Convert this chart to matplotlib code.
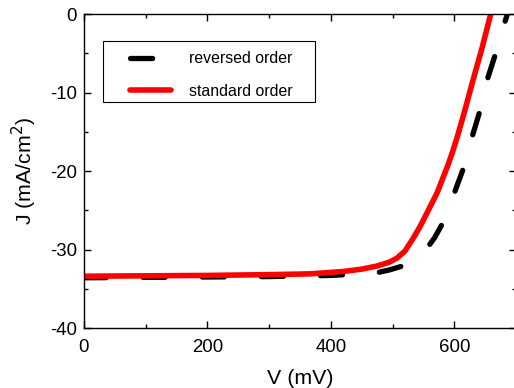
import matplotlib

matplotlib.use("Agg")

import matplotlib.pyplot as plt
from matplotlib.patches import Rectangle
from matplotlib.ticker import MultipleLocator

plt.rcParams["font.family"] = ["Liberation Sans", "DejaVu Sans"]
plt.rcParams["axes.unicode_minus"] = False

# J-V curves (V in mV, J in mA/cm^2)
v_reversed = [0, 100, 200, 300, 400, 472, 495, 516, 535, 556, 568, 580, 590,
              600, 615, 629, 642, 654, 667, 678, 686]
j_reversed = [-33.6, -33.55, -33.5, -33.45, -33.3, -33.0, -32.6, -32.1, -31.2,
              -29.8, -28.5, -26.8, -24.9, -22.8, -19.6, -15.6, -12.2, -8.2,
              -5.0, -2.0, 0.0]

v_standard = [0, 100, 200, 300, 367, 420, 450, 475, 495, 507, 520, 534, 545,
              556, 572, 589, 597, 605, 617, 629, 645, 659]
j_standard = [-33.4, -33.35, -33.3, -33.2, -33.1, -32.8, -32.5, -32.1, -31.6,
              -31.1, -30.2, -28.5, -27.0, -25.3, -22.8, -19.4, -17.6, -15.6,
              -12.3, -8.8, -4.3, 0.0]

fig = plt.figure(figsize=(5.14, 3.88), dpi=100)
ax = fig.add_axes([0.1634, 0.1546, 0.8406, 0.8093])

ax.plot(v_reversed, j_reversed, color="black", linewidth=3.8,
        linestyle=(0, (4.2, 7.0)), dash_capstyle="round",
        label="reversed order")
ax.plot(v_standard, j_standard, color="#ff0000", linewidth=4.0,
        solid_capstyle="round", solid_joinstyle="round",
        label="standard order")

ax.set_xlim(0, 700)
ax.set_ylim(-40, 0)
ax.xaxis.set_major_locator(MultipleLocator(200))
ax.xaxis.set_minor_locator(MultipleLocator(100))
ax.yaxis.set_major_locator(MultipleLocator(10))
ax.yaxis.set_minor_locator(MultipleLocator(5))
ax.tick_params(which="both", direction="in", top=True, right=True,
               labelsize=13.4, width=1.0)
ax.tick_params(which="major", length=5)
ax.tick_params(which="minor", length=3)
ax.tick_params(axis="x", pad=8)
ax.tick_params(axis="y", pad=5)
for spine in ax.spines.values():
    spine.set_linewidth(1.0)

ax.set_xlabel("V (mV)", fontsize=15.4, labelpad=9)
ax.set_ylabel("J (mA/cm$^2$)", fontsize=15.4, labelpad=8)

# legend entries without a frame, plus a plain rectangular frame
ax.legend(loc="upper left", bbox_to_anchor=(0.2529, 0.8675),
          bbox_transform=fig.transFigure, fontsize=11.4, frameon=False,
          handlelength=2.6, handletextpad=1.1, borderpad=0,
          labelspacing=1.1, borderaxespad=0)
fig.patches.append(Rectangle((0.2004, 0.7371), 0.4125, 0.1572,
                             transform=fig.transFigure, fill=False,
                             edgecolor="black", linewidth=0.8))

fig.savefig("out.png", dpi=100)
